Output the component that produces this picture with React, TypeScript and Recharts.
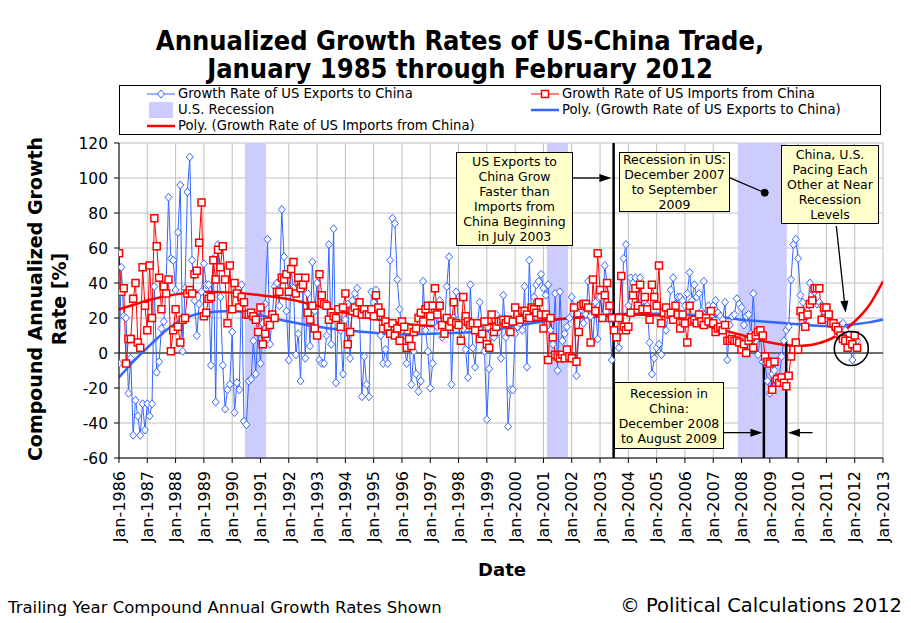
import {
  CartesianGrid,
  ComposedChart,
  Line,
  ReferenceArea,
  ReferenceDot,
  ReferenceLine,
  XAxis,
  YAxis,
} from "recharts";

const FONT = '"DejaVu Sans", Verdana, sans-serif';
const TITLE_FONT = '"DejaVu Sans Condensed", "DejaVu Sans", sans-serif';
const BLUE = "#3366ff";
const RED = "#ff0000";
const RECESSION = "#ccccff";
const NOTE_BG = "#ffffcc";

// trailing-year growth, one value per month starting Jan-1986
const START_YEAR = 1986;

const exportsGrowth = [
  -6, 49, 21, 20, -23, -3, -47, -27, -36, -47, -29, -44,
  -29, -36, -29, 38, -11, -5, 14, 18, 40, 89, 54, 53,
  36, 69, 96, 1, 37, 92, 112, 53, 30, 10, 28, 35,
  51, 39, 39, -7, 54, -28, 62, 32, -7, -32, -21, -18,
  12, -34, -17, -21, 39, -39, -41, -16, -15, 7, -12, 13,
  -6, 17, 28, 65, 5, 22, 38, 40, 27, 82, 55, 24,
  -4, 48, 37, -1, 11, -16, 37, -3, 34, 4, 52, 24,
  40, -4, -6, -6, 10, 62, 5, 71, -17, 20, 13, -12,
  19, 28, -3, 30, 34, 37, 22, -25, -2, -18, -25, 35,
  29, 36, 22, 10, -6, 2, -6, 53, 77, 74, 42, 25,
  13, 6, -6, 8, -18, 1, -12, -22, -16, 41, 13, 1,
  -20, -6, 23, 15, 30, 9, 14, 38, 55, -18, 20, 35,
  16, 16, 14, 2, -14, 39, 3, -8, 16, 29, 17, 1,
  -38, -9, 12, 9, 22, 12, -3, 33, 9, -42, -21, -21,
  11, 15, 17, 13, 38, -8, 53, 20, 32, 39, 41, 45,
  37, 33, 39, 13, 5, 34, -10, 35, 7, 11, 15, 20,
  32, 26, -13, 12, 25, 17, 22, 41, 21, 7, 29, 8,
  32, 21, 50, 40, 19, -4, 13, 9, 3, 13, 54, 62,
  27, 43, 40, 43, 27, 43, 30, 30, 27, 6, -12, -3,
  3, 5, -1, 17, 13, 24, 36, 43, 28, 32, 32, 30,
  27, 34, 46, 30, 39, 32, 34, 24, 41, 21, 27, 21,
  27, 30, 23, 21, 19, 29, -4, 16, 21, 22, 31, 28,
  26, 16, 21, 22, 11, 34, 7, -1, 11, -5, -6, -16,
  -23, -12, -10, -17, -14, -2, 7, 13, 15, 42, 62, 65,
  54, 33, 29, 20, 24, 40, 36, 35, 28, 29, 27, 24,
  20, 22, 18, 15, 13, 10, 16, 17, 13, 7, 3, -4,
  5, 7,
];

const importsGrowth = [
  57, 35, 37, -6, 8, 8, 31, 40, 6, 3, 49, 27,
  13, 50, 20, 77, 61, 43, 25, 38, 34, 42, 1, 13,
  25, 15, 6, 19, 20, 34, 36, 34, 45, 47, 63, 86,
  21, 23, 31, 32, 53, 42, 59, 49, 61, 42, 17, 50,
  25, 40, 34, 26, 32, 29, 22, 22, 23, 21, 19, 12,
  26, 5, 11, 18, 16, 22, 20, 35, 35, 43, 42, 45,
  35, 48, 52, 34, 43, 37, 39, 43, 23, 19, 27, 14,
  10, 45, 33, 28, 27, 19, 23, 21, 20, 25, 15, 26,
  34, 5, 12, 24, 26, 23, 29, 22, 25, 22, 22, 25,
  21, 33, 26, 23, 14, 18, 15, 11, 17, 10, 14, 7,
  18, 15, 3, 8, 4, 12, 14, 20, 23, 18, 25, 27,
  21, 27, 37, 22, 27, 16, 11, 20, 15, 18, 29, 17,
  16, 7, 32, 21, 18, 16, 17, 13, 17, 8, 11, 18,
  5, 3, 22, 12, 15, 18, 18, 19, 17, 19, 12, 18,
  26, 22, 19, 24, 24, 22, 20, 26, 25, 23, 29, 22,
  14, 22, -4, 20, 9, -1, -2, -3, -1, -3, 2, -2,
  -3, 26, -5, 12, 27, 28, 28, 26, 6, 42, 24, 57,
  36, 20, 33, 40, 27, 20, 13, 9, 20, 44, 15, 13,
  15, 23, 33, 37, 27, 39, 25, 32, 25, 19, 39, 32,
  27, 50, 17, 23, 26, 22, 23, 19, 27, 22, 14, 22,
  17, 6, 27, 18, 19, 17, 22, 18, 16, 20, 18, 24,
  17, 12, 14, 15, 13, 16, 7, 7, 8, 7, 7, 6,
  2, 5, 0, 7, 9, 3, 10, 12, 13, 10, -2, -5,
  -6, -21, -5, -15, -17, -14, -17, -19, -13, -2, 2, 6,
  2, 24, 21, 15, 22, 28, 30, 37, 37, 37, 19, 26,
  26, 22, 17, 17, 15, 13, 10, 8, 7, 3, 7, 5,
  10, 3,
];

// polynomial trend lines
const polyYears = [
  1986, 1986.5, 1987, 1988, 1989, 1990, 1991, 1992, 1993, 1994, 1995, 1996,
  1997, 1998, 1999, 2000, 2001, 2002, 2003, 2004, 2005, 2006, 2007, 2008,
  2009, 2010, 2011, 2012, 2012.5, 2013,
];
const exportsPoly = [
  -14, -5, 3, 17, 23, 24, 21.5, 18, 15, 13, 11.6, 10.7,
  11, 11.6, 12.6, 15.4, 18, 20, 21.5, 22.5, 22.5, 22, 21, 19,
  17.7, 16.4, 15.4, 16.4, 17.5, 19,
];
const importsPoly = [
  25, 27.4, 30, 33.5, 35, 34.5, 33, 30.7, 27, 23, 19.6, 16.8,
  15.4, 16, 16.4, 18, 18.7, 20, 21, 22, 21.5, 19, 14.5, 10.3,
  6, 4, 7, 18, 27, 41,
];

const recessions = [
  { from: 1990.45, to: 1991.2 },
  { from: 2001.12, to: 2001.87 },
  { from: 2007.87, to: 2009.6 },
];

const yTicks = [-60, -40, -20, 0, 20, 40, 60, 80, 100, 120];
const xTickYears = [
  1986, 1987, 1988, 1989, 1990, 1991, 1992, 1993, 1994, 1995, 1996, 1997, 1998,
  1999, 2000, 2001, 2002, 2003, 2004, 2005, 2006, 2007, 2008, 2009, 2010, 2011,
  2012, 2013,
];

const toMonthly = (vals: number[]) =>
  vals.map((v, i) => ({ t: START_YEAR + i / 12, v }));
const exportSeries = toMonthly(exportsGrowth);
const importSeries = toMonthly(importsGrowth);
const exportPolySeries = polyYears.map((t, i) => ({ t, v: exportsPoly[i] }));
const importPolySeries = polyYears.map((t, i) => ({ t, v: importsPoly[i] }));

function YearTick(props: any) {
  const { x, y, payload } = props;
  return (
    <text
      x={x}
      y={y}
      transform={`rotate(-90 ${x} ${y})`}
      textAnchor="end"
      dy="0.36em"
      fontSize={16}
      fontFamily={FONT}
      fill="#000"
    >
      {`Jan-${payload.value}`}
    </text>
  );
}

function Diamond(props: any) {
  const { cx, cy, index } = props;
  if (cx == null || cy == null) return <g key={index} />;
  return (
    <path
      key={index}
      d={`M${cx},${cy - 4} L${cx + 3.5},${cy} L${cx},${cy + 4} L${cx - 3.5},${cy} Z`}
      fill="#fff"
      stroke={BLUE}
      strokeWidth={1}
    />
  );
}

function Square(props: any) {
  const { cx, cy, index } = props;
  if (cx == null || cy == null) return <g key={index} />;
  return (
    <rect
      key={index}
      x={cx - 3.5}
      y={cy - 3.5}
      width={7}
      height={7}
      fill="#fff"
      stroke={RED}
      strokeWidth={1.5}
    />
  );
}

function ArrowLine(props: any) {
  const { x1, y1, x2, y2 } = props;
  const ang = Math.atan2(y2 - y1, x2 - x1);
  const len = 12;
  const half = 4;
  const bx = x2 - len * Math.cos(ang);
  const by = y2 - len * Math.sin(ang);
  const px = -Math.sin(ang) * half;
  const py = Math.cos(ang) * half;
  return (
    <g>
      <line x1={x1} y1={y1} x2={bx} y2={by} stroke="#000" strokeWidth={1.3} />
      <polygon
        points={`${x2},${y2} ${bx + px},${by + py} ${bx - px},${by - py}`}
        fill="#000"
      />
    </g>
  );
}

function Note({ left, top, width, height, lines }: any) {
  return (
    <div
      style={{
        position: "absolute",
        left,
        top,
        width,
        height,
        boxSizing: "border-box",
        border: "1px solid #000",
        background: NOTE_BG,
        fontFamily: FONT,
        fontSize: 12.5,
        lineHeight: "15px",
        textAlign: "center",
        display: "flex",
        flexDirection: "column",
        justifyContent: "center",
        color: "#000",
      }}
    >
      {lines.map((l: string) => (
        <div key={l}>{l}</div>
      ))}
    </div>
  );
}

function LegendMarker({ kind }: { kind: string }) {
  return (
    <svg width={28} height={16} style={{ position: "absolute", left: 0, top: 0 }}>
      {kind === "exports" && (
        <>
          <line x1={0} y1={8} x2={28} y2={8} stroke={BLUE} strokeWidth={1} />
          <path d="M14,4 L17.5,8 L14,12 L10.5,8 Z" fill="#fff" stroke={BLUE} />
        </>
      )}
      {kind === "imports" && (
        <>
          <line x1={0} y1={8} x2={28} y2={8} stroke={RED} strokeWidth={1} />
          <rect x={10.5} y={4.5} width={7} height={7} fill="#fff" stroke={RED} strokeWidth={1.5} />
        </>
      )}
      {kind === "recession" && <rect x={2} y={0} width={24} height={16} fill={RECESSION} />}
      {kind === "exportsPoly" && (
        <line x1={0} y1={8} x2={28} y2={8} stroke={BLUE} strokeWidth={2.5} />
      )}
      {kind === "importsPoly" && (
        <line x1={0} y1={8} x2={28} y2={8} stroke={RED} strokeWidth={2.5} />
      )}
    </svg>
  );
}

const legendItems = [
  { kind: "exports", label: "Growth Rate of US Exports to China", col: 0, row: 0 },
  { kind: "imports", label: "Growth Rate of US Imports from China", col: 1, row: 0 },
  { kind: "recession", label: "U.S. Recession", col: 0, row: 1 },
  { kind: "exportsPoly", label: "Poly. (Growth Rate of US Exports to China)", col: 1, row: 1 },
  { kind: "importsPoly", label: "Poly. (Growth Rate of US Imports from China)", col: 0, row: 2 },
];

function LegendBox() {
  return (
    <div
      style={{
        position: "absolute",
        left: 119,
        top: 85,
        width: 762,
        height: 50,
        boxSizing: "border-box",
        border: "1px solid #000",
        background: "#fff",
        fontFamily: FONT,
        fontSize: 13.2,
        color: "#000",
      }}
    >
      {legendItems.map((it) => (
        <div
          key={it.label}
          style={{
            position: "absolute",
            left: it.col === 0 ? 27 : 411,
            top: 0 + it.row * 16,
            height: 16,
            lineHeight: "16px",
            whiteSpace: "nowrap",
          }}
        >
          <LegendMarker kind={it.kind} />
          <span style={{ marginLeft: 31 }}>{it.label}</span>
        </div>
      ))}
    </div>
  );
}

export default function App() {
  return (
    <div
      style={{
        position: "absolute",
        left: 0,
        top: 0,
        width: 911,
        height: 623,
        background: "#fff",
        overflow: "hidden",
      }}
    >
      <ComposedChart
        width={911}
        height={623}
        margin={{ top: 143, right: 28, bottom: 85, left: 0 }}
      >
        <CartesianGrid stroke="#c0c0c0" strokeWidth={1} />
        <XAxis
          type="number"
          dataKey="t"
          domain={[1986, 2013]}
          ticks={xTickYears}
          interval={0}
          allowDataOverflow
          tick={<YearTick />}
          tickSize={5}
          tickMargin={8}
          height={80}
          stroke="#000"
        />
        <YAxis
          type="number"
          domain={[-60, 120]}
          ticks={yTicks}
          interval={0}
          width={119}
          tickSize={5}
          tickMargin={6}
          stroke="#000"
          tick={{ fontSize: 15.5, fill: "#000", fontFamily: FONT }}
        />
        {recessions.map((r) => (
          <ReferenceArea
            key={r.from}
            x1={r.from}
            x2={r.to}
            y1={-60}
            y2={120}
            fill={RECESSION}
            fillOpacity={1}
            stroke="none"
          />
        ))}
        <ReferenceLine y={0} stroke="#000" strokeWidth={1.2} />
        <Line
          data={exportSeries}
          dataKey="v"
          type="linear"
          stroke={BLUE}
          strokeWidth={1}
          dot={Diamond}
          activeDot={false}
          isAnimationActive={false}
        />
        <Line
          data={importSeries}
          dataKey="v"
          type="linear"
          stroke={RED}
          strokeWidth={1}
          dot={Square}
          activeDot={false}
          isAnimationActive={false}
        />
        <Line
          data={exportPolySeries}
          dataKey="v"
          type="monotone"
          stroke={BLUE}
          strokeWidth={2.5}
          dot={false}
          activeDot={false}
          isAnimationActive={false}
        />
        <Line
          data={importPolySeries}
          dataKey="v"
          type="monotone"
          stroke={RED}
          strokeWidth={2.5}
          dot={false}
          activeDot={false}
          isAnimationActive={false}
        />
        {/* annotation lines */}
        <ReferenceLine
          segment={[{ x: 2003.48, y: -60 }, { x: 2003.48, y: 120 }]}
          stroke="#000"
          strokeWidth={2.5}
        />
        <ReferenceLine
          segment={[{ x: 2008.79, y: -60 }, { x: 2008.79, y: -4.6 }]}
          stroke="#000"
          strokeWidth={2.5}
        />
        <ReferenceLine
          segment={[{ x: 2009.58, y: -60 }, { x: 2009.58, y: 6.5 }]}
          stroke="#000"
          strokeWidth={2.5}
        />
        <ReferenceLine
          segment={[{ x: 2002.03, y: 100 }, { x: 2003.4, y: 100 }]}
          shape={ArrowLine}
        />
        <ReferenceLine
          segment={[{ x: 2007.34, y: -45.5 }, { x: 2008.74, y: -45.5 }]}
          shape={ArrowLine}
        />
        <ReferenceLine
          segment={[{ x: 2010.51, y: -45.5 }, { x: 2009.64, y: -45.5 }]}
          shape={ArrowLine}
        />
        <ReferenceLine
          segment={[{ x: 2011.35, y: 72.6 }, { x: 2011.68, y: 23 }]}
          shape={ArrowLine}
        />
        <ReferenceLine
          segment={[{ x: 2007.57, y: 100.2 }, { x: 2008.82, y: 91.6 }]}
          stroke="#000"
          strokeWidth={1.3}
        />
        <ReferenceDot x={2008.82} y={91.6} r={3.5} fill="#000" stroke="#000" />
        <ReferenceDot
          x={2011.88}
          y={2.6}
          r={17}
          fill="none"
          stroke="#000"
          strokeWidth={1.6}
        />
      </ComposedChart>

      <LegendBox />

      <Note
        left={456}
        top={152}
        width={117}
        height={94}
        lines={["US Exports to", "China Grow", "Faster than", "Imports from", "China Beginning", "in July 2003"]}
      />
      <Note
        left={619}
        top={152}
        width={111}
        height={60}
        lines={["Recession in US:", "December 2007", "to September", "2009"]}
      />
      <Note
        left={614}
        top={382}
        width={110}
        height={67}
        lines={["Recession in", "China:", "December 2008", "to August 2009"]}
      />
      <Note
        left={781}
        top={145}
        width={98}
        height={79}
        lines={["China, U.S.", "Pacing Each", "Other at Near", "Recession", "Levels"]}
      />

      <svg
        width={911}
        height={623}
        style={{ position: "absolute", left: 0, top: 0, pointerEvents: "none" }}
      >
        <text x={460} y={50} textAnchor="middle" fontFamily={TITLE_FONT} fontWeight="bold" fontSize={27}>
          Annualized Growth Rates of US-China Trade,
        </text>
        <text x={460} y={78} textAnchor="middle" fontFamily={TITLE_FONT} fontWeight="bold" fontSize={27}>
          January 1985 through February 2012
        </text>
        <text
          transform="translate(42 299) rotate(-90)"
          textAnchor="middle"
          fontFamily={FONT}
          fontWeight="bold"
          fontSize={19}
        >
          Compound Annualized Growth
        </text>
        <text
          transform="translate(66 299) rotate(-90)"
          textAnchor="middle"
          fontFamily={FONT}
          fontWeight="bold"
          fontSize={19}
        >
          Rate [%]
        </text>
        <text x={502} y={576} textAnchor="middle" fontFamily={FONT} fontWeight="bold" fontSize={18}>
          Date
        </text>
        <text x={8} y={613} fontFamily={FONT} fontSize={16.5}>
          Trailing Year Compound Annual Growth Rates Shown
        </text>
        <text x={902} y={612} textAnchor="end" fontFamily={FONT} fontSize={19.5}>
          © Political Calculations 2012
        </text>
      </svg>
    </div>
  );
}
